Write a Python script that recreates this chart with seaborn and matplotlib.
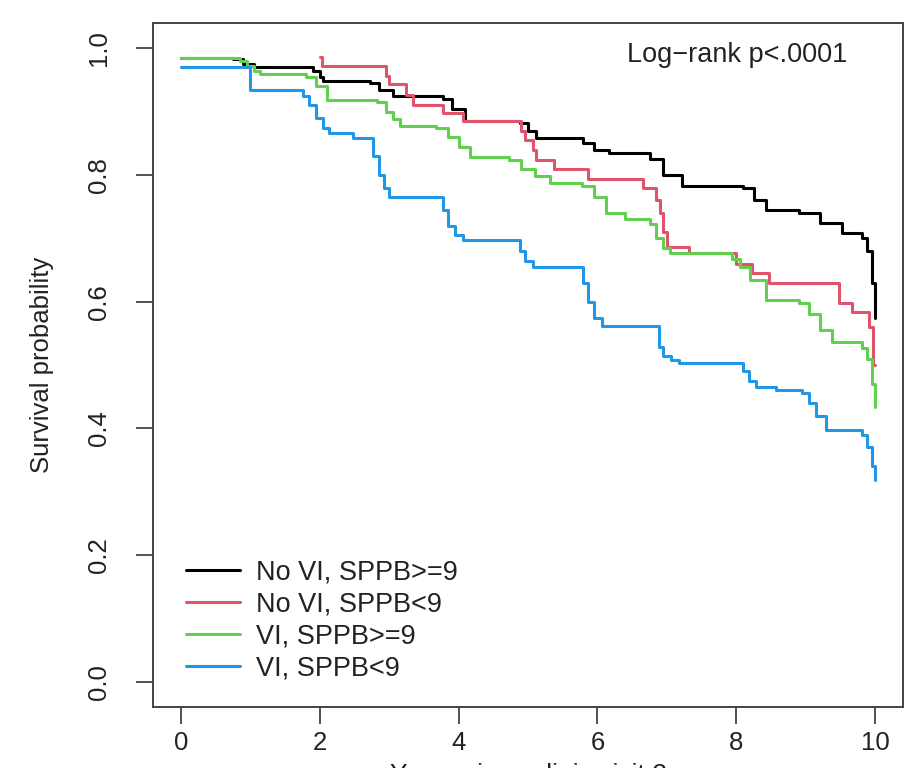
import pandas as pd
import matplotlib
matplotlib.use("Agg")
import matplotlib.pyplot as plt
import seaborn as sns

# Kaplan-Meier step points (time in years, survival)
groups = ["No VI, SPPB>=9", "No VI, SPPB<9", "VI, SPPB>=9", "VI, SPPB<9"]
colors = ["#000000", "#DF536B", "#61D04F", "#2297E6"]

t_novi_hi = [0, 0.75, 0.9, 1.05, 1.9, 2.0, 2.05, 2.72, 2.85, 3.05, 3.77, 3.9, 4.1,
             4.88, 5.0, 5.12, 5.79, 5.95, 6.17, 6.75, 6.95, 7.22, 8.09, 8.25, 8.43,
             8.9, 9.2, 9.52, 9.81, 9.88, 9.95, 10.0]
s_novi_hi = [0.985, 0.983, 0.975, 0.97, 0.965, 0.955, 0.948, 0.945, 0.935, 0.925, 0.92,
             0.905, 0.885, 0.882, 0.87, 0.859, 0.85, 0.84, 0.835, 0.825, 0.80, 0.782,
             0.78, 0.76, 0.745, 0.74, 0.725, 0.709, 0.70, 0.68, 0.63, 0.575]

t_novi_lo = [2.0, 2.03, 2.96, 3.0, 3.25, 3.34, 3.77, 4.06, 4.9, 4.95, 5.07, 5.12, 5.38,
             5.86, 6.65, 6.85, 6.9, 6.95, 7.0, 7.32, 8.0, 8.22, 8.47, 9.48, 9.67, 9.91,
             9.97, 10.0]
s_novi_lo = [0.987, 0.972, 0.956, 0.943, 0.927, 0.911, 0.898, 0.885, 0.869, 0.855, 0.84,
             0.824, 0.809, 0.794, 0.78, 0.76, 0.74, 0.71, 0.687, 0.677, 0.659, 0.646,
             0.63, 0.598, 0.584, 0.56, 0.50, 0.50]

t_vi_hi = [0, 0.85, 0.95, 1.05, 1.14, 1.81, 1.95, 2.1, 2.82, 2.95, 3.05, 3.15, 3.68,
           3.85, 4.0, 4.16, 4.73, 4.9, 5.1, 5.31, 5.78, 5.95, 6.13, 6.4, 6.75, 6.85,
           6.95, 7.04, 7.94, 8.05, 8.19, 8.43, 8.9, 9.05, 9.2, 9.38, 9.81, 9.88, 9.95, 10.0]
s_vi_hi = [0.984, 0.98, 0.972, 0.965, 0.959, 0.955, 0.94, 0.919, 0.915, 0.9, 0.888,
           0.878, 0.875, 0.86, 0.845, 0.829, 0.824, 0.81, 0.798, 0.788, 0.782, 0.765,
           0.74, 0.73, 0.722, 0.70, 0.685, 0.677, 0.667, 0.655, 0.635, 0.603, 0.598,
           0.58, 0.555, 0.537, 0.527, 0.51, 0.47, 0.434]

t_vi_lo = [0, 1.0, 1.76, 1.85, 1.95, 2.05, 2.14, 2.48, 2.77, 2.85, 2.93, 3.0, 3.77,
           3.85, 3.95, 4.06, 4.88, 4.95, 5.07, 5.79, 5.87, 5.95, 6.07, 6.89, 6.94,
           7.06, 7.18, 8.09, 8.18, 8.29, 8.57, 8.95, 9.05, 9.15, 9.29, 9.81, 9.88,
           9.95, 10.0]
s_vi_lo = [0.970, 0.934, 0.925, 0.91, 0.89, 0.875, 0.867, 0.859, 0.83, 0.80, 0.78,
           0.766, 0.745, 0.72, 0.705, 0.698, 0.68, 0.665, 0.655, 0.63, 0.60, 0.575,
           0.561, 0.529, 0.515, 0.508, 0.503, 0.49, 0.475, 0.466, 0.461, 0.456, 0.44,
           0.42, 0.397, 0.39, 0.37, 0.34, 0.318]

x_ticks = [0, 2, 4, 6, 8, 10]
y_ticks = [0.0, 0.2, 0.4, 0.6, 0.8, 1.0]

frames = []
for g, t, s in zip(groups,
                   [t_novi_hi, t_novi_lo, t_vi_hi, t_vi_lo],
                   [s_novi_hi, s_novi_lo, s_vi_hi, s_vi_lo]):
    frames.append(pd.DataFrame({"time": t, "surv": s, "group": g}))
km = pd.concat(frames, ignore_index=True)

sns.set_style("white")
plt.rcParams["font.family"] = ["Liberation Sans", "DejaVu Sans"]

fig = plt.figure(figsize=(9.22, 7.68), dpi=100)
ax = fig.add_axes([153 / 922, 1 - 707 / 768, 750 / 922, 684 / 768])

sns.lineplot(data=km, x="time", y="surv", hue="group", hue_order=groups,
             palette=dict(zip(groups, colors)), estimator=None, sort=False,
             drawstyle="steps-post", linewidth=2.2, legend=False, ax=ax)

ax.set_xlim(-0.4, 10.4)
ax.set_ylim(-0.04, 1.04)
ax.set_xticks(x_ticks)
ax.set_xticklabels([str(v) for v in x_ticks])
ax.set_yticks(y_ticks)
ax.set_yticklabels([f"{v:.1f}" for v in y_ticks], rotation=90, va="center")

for sp in ax.spines.values():
    sp.set_color("#444444")
    sp.set_linewidth(1.4)
ax.tick_params(axis="both", which="major", direction="out", length=12, width=1.3,
               color="#444444", labelsize=18.5, labelcolor="#222222", left=True, bottom=True)
ax.tick_params(axis="x", pad=5)
ax.tick_params(axis="y", pad=18)

# x label sits low and is clipped at the bottom edge, like the reference
ax.set_xlabel("Years since clinic visit 2", fontsize=19, color="#222222", labelpad=6)
ax.set_ylabel("Survival probability", fontsize=18.5, color="#222222", labelpad=24)

ax.text(9.6, 0.99, "Log\u2212rank p<.0001", fontsize=19.5, color="#222222",
        ha="right", va="center")

handles = [plt.Line2D([], [], color=c, lw=2.2) for c in colors]
ax.legend(handles, groups, loc="lower left", bbox_to_anchor=(0.029, 0.022),
          frameon=False, fontsize=19.5, handlelength=2.0, handletextpad=0.6,
          labelspacing=0.22, borderaxespad=0.0, labelcolor="#222222")

fig.savefig("out.png", dpi=100)
